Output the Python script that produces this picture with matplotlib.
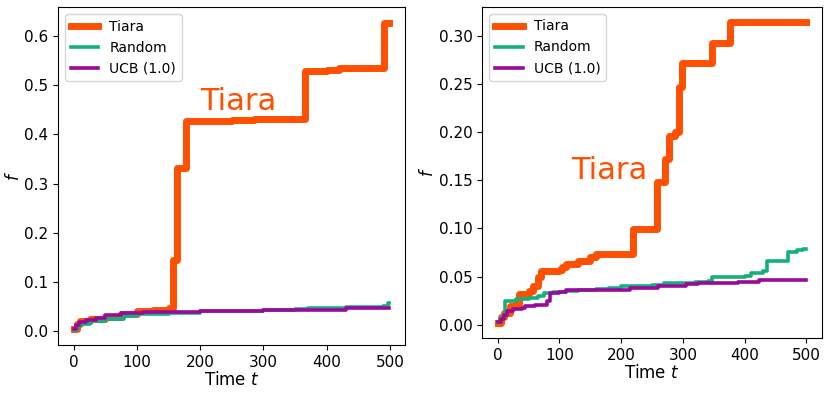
import matplotlib
matplotlib.use('Agg')
import matplotlib.pyplot as plt

# breakpoints (t, best f so far), drawn as post-steps
left_tiara_t = [0, 5, 10, 25, 50, 75, 100, 125, 150, 157, 164, 178, 250, 285, 366, 400, 420, 491, 499]
left_tiara_f = [0.005, 0.015, 0.02, 0.025, 0.028, 0.035, 0.04, 0.042, 0.047, 0.145, 0.332, 0.427, 0.429, 0.432, 0.528, 0.531, 0.534, 0.627, 0.627]
left_rand_t = [0, 5, 10, 25, 50, 80, 100, 150, 200, 300, 350, 370, 430, 490, 497, 499]
left_rand_f = [0.003, 0.01, 0.015, 0.02, 0.025, 0.03, 0.034, 0.037, 0.04, 0.042, 0.045, 0.048, 0.05, 0.052, 0.057, 0.057]
left_ucb_t = [0, 4, 8, 20, 35, 50, 75, 110, 200, 300, 330, 430, 499]
left_ucb_f = [0.005, 0.012, 0.018, 0.022, 0.027, 0.032, 0.036, 0.038, 0.040, 0.042, 0.043, 0.046, 0.046]

right_tiara_t = [0, 5, 10, 20, 30, 35, 50, 58, 65, 70, 100, 105, 110, 130, 150, 160, 190, 219, 258,
                 271, 278, 287, 293, 298, 347, 377, 500]
right_tiara_f = [0.002, 0.008, 0.012, 0.02, 0.022, 0.032, 0.035, 0.04, 0.05, 0.056, 0.057, 0.06, 0.063,
                 0.066, 0.07, 0.073, 0.074, 0.099, 0.148, 0.172, 0.196, 0.2, 0.247, 0.272, 0.292, 0.314, 0.314]
right_rand_t = [0, 5, 12, 30, 50, 65, 75, 90, 110, 130, 160, 180, 200, 250, 270, 320, 340, 348, 400,
                410, 430, 436, 471, 485, 495, 500]
right_rand_f = [0.003, 0.008, 0.025, 0.027, 0.028, 0.030, 0.033, 0.034, 0.035, 0.036, 0.037, 0.038,
                0.040, 0.041, 0.043, 0.044, 0.046, 0.050, 0.051, 0.054, 0.056, 0.066, 0.076, 0.078, 0.079, 0.079]
right_ucb_t = [0, 5, 10, 15, 25, 40, 45, 60, 80, 85, 100, 110, 215, 260, 305, 325, 390, 423, 500]
right_ucb_f = [0.003, 0.006, 0.01, 0.014, 0.016, 0.017, 0.02, 0.021, 0.025, 0.033, 0.034, 0.036,
               0.038, 0.040, 0.042, 0.043, 0.044, 0.047, 0.047]

labels = ['Tiara', 'Random', 'UCB (1.0)']
colors = ['#ff4f00', '#14b07c', '#990a9a']
widths = [5.0, 2.6, 2.6]

plt.rcParams['font.size'] = 11
fig = plt.figure(figsize=(8.3, 3.95), dpi=100)
ax1 = fig.add_axes([0.0699, 0.1266, 0.418, 0.855])
ax2 = fig.add_axes([0.581, 0.1443, 0.409, 0.838])

panels = [
    (ax1, [(left_tiara_t, left_tiara_f), (left_rand_t, left_rand_f), (left_ucb_t, left_ucb_f)], (200, 0.45)),
    (ax2, [(right_tiara_t, right_tiara_f), (right_rand_t, right_rand_f), (right_ucb_t, right_ucb_f)], (119, 0.151)),
]

for ax, series, txt in panels:
    for (t, f), lab, c, w in zip(series, labels, colors, widths):
        ax.plot(t, f, drawstyle='steps-post', color=c, lw=w, label=lab)
    ax.text(txt[0], txt[1], 'Tiara', color=colors[0], fontsize=22)
    ax.set_xlabel(r'Time $t$', fontsize=12, labelpad=1)
    ax.set_ylabel(r'$f$', fontsize=12, labelpad=1)
    ax.set_xticks([0, 100, 200, 300, 400, 500])
    ax.legend(loc='upper left', fontsize=10)

ax2.set_yticks([0.0, 0.05, 0.10, 0.15, 0.20, 0.25, 0.30])

fig.savefig('out.png', dpi=100)
